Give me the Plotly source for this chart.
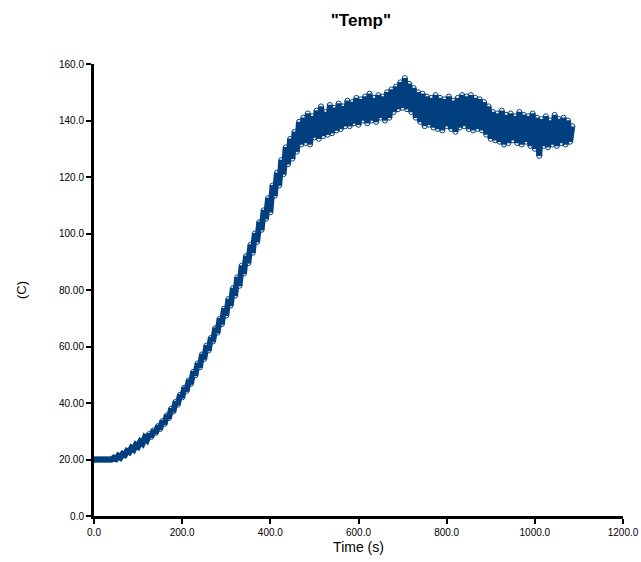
import plotly.graph_objects as go

# Sampling grid (s) and temperature readings (C)
time_s = list(range(0, 1090, 5))
temp_c = [
    20.0, 20.0, 20.0, 20.0, 20.0, 20.0, 20.0, 20.0, 20.0,
    20.6, 20.2, 21.3, 20.7, 22.0, 21.6, 23.0, 22.6, 24.1, 23.5,
    25.2, 24.6, 26.3, 25.6, 27.7, 26.9, 29.0, 28.0, 30.3, 29.4,
    31.8, 30.8, 33.6, 32.6, 35.6, 34.7, 38.0, 37.0, 40.4, 39.4,
    42.9, 42.0, 45.4, 44.3, 48.0, 46.8, 51.0, 49.8, 54.0, 52.6,
    57.2, 55.6, 60.3, 58.6, 63.0, 61.8, 66.5, 64.9, 69.8, 67.9,
    73.4, 71.0, 76.8, 74.5, 80.6, 78.0, 84.5, 81.5, 88.6, 85.8,
    92.0, 89.5, 96.0, 93.2, 100.0, 97.0, 104.0, 101.3, 108.2, 105.2,
    112.5, 107.5, 117.0, 113.4, 121.5, 117.0, 126.0, 121.0, 130.5, 124.5,
    133.5, 126.5, 136.0, 129.0, 139.5, 131.5, 141.0, 132.0, 142.5, 131.5,
    141.5, 134.0, 143.5, 133.5, 145.0, 134.5, 143.0, 135.0, 145.5, 135.5,
    144.5, 136.5, 146.0, 137.0, 145.0, 138.0, 147.0, 138.0, 146.5, 139.0,
    148.0, 138.5, 147.5, 140.0, 148.5, 139.0, 149.5, 140.0, 148.0, 139.5,
    149.0, 141.0, 148.5, 140.0, 150.0, 141.0, 151.0, 143.0, 152.0, 144.0,
    153.5, 144.5, 155.0, 144.0, 153.0, 143.0, 151.5, 141.0, 150.0, 139.5,
    149.5, 138.0, 148.5, 138.5, 148.0, 137.5, 149.0, 137.0, 148.0, 136.5,
    147.5, 138.0, 148.5, 137.0, 147.0, 136.0, 148.0, 137.5, 149.0, 138.0,
    148.5, 137.0, 149.0, 136.5, 148.0, 137.0, 147.5, 136.5, 146.5, 135.0,
    145.0, 133.5, 143.0, 133.0, 142.5, 132.5, 143.5, 131.5, 142.0, 132.0,
    142.5, 133.0, 141.5, 132.0, 143.0, 131.5, 142.0, 132.5, 141.5, 131.0,
    142.5, 130.0, 141.0, 127.5, 140.5, 131.0, 141.5, 130.5, 140.0, 131.5,
    142.0, 131.0, 140.5, 132.0, 141.0, 131.5, 140.0, 132.5, 138.0,
]
assert len(time_s) == len(temp_c)

y_tickvals = [0, 20, 40, 60, 80, 100, 120, 140, 160]
y_ticktext = ["0.0", "20.00", "40.00", "60.00", "80.00", "100.0", "120.0", "140.0", "160.0"]
x_tickvals = [0, 200, 400, 600, 800, 1000, 1200]
x_ticktext = ["0.0", "200.0", "400.0", "600.0", "800.0", "1000.0", "1200.0"]

color = "#023f7e"

fig = go.Figure()
fig.add_trace(go.Scatter(
    x=time_s, y=temp_c, mode="lines+markers",
    line=dict(color=color, width=6),
    marker=dict(symbol="circle-open", size=5, color=color, line=dict(width=1, color=color)),
    showlegend=False,
))

fig.update_layout(
    width=641, height=562,
    margin=dict(l=94, r=18, t=64, b=46, autoexpand=False),
    paper_bgcolor="white", plot_bgcolor="white",
    font=dict(family="Liberation Sans, Arial, sans-serif", color="black", size=10),
    title=dict(text='<b>"Temp"</b>', x=0.563, xanchor="center", y=0.965, yanchor="middle",
               font=dict(size=17, family="Liberation Sans, Arial, sans-serif", color="black")),
    xaxis=dict(
        range=[0, 1200], tickvals=x_tickvals, ticktext=x_ticktext, automargin=False,
        showline=True, linecolor="black", linewidth=3, ticks="outside", ticklen=5,
        tickwidth=2, tickcolor="black", showgrid=False, zeroline=False,
        title=dict(text="Time (s)", font=dict(size=14), standoff=6),
        tickfont=dict(size=10),
    ),
    yaxis=dict(
        range=[0, 160], tickvals=y_tickvals, ticktext=y_ticktext, automargin=False,
        showline=True, linecolor="black", linewidth=3, ticks="outside", ticklen=5,
        tickwidth=2, tickcolor="black", showgrid=False, zeroline=False,
        title=dict(text="(C)", font=dict(size=13), standoff=30),
        tickfont=dict(size=10),
    ),
)

fig.write_html("out.html")
